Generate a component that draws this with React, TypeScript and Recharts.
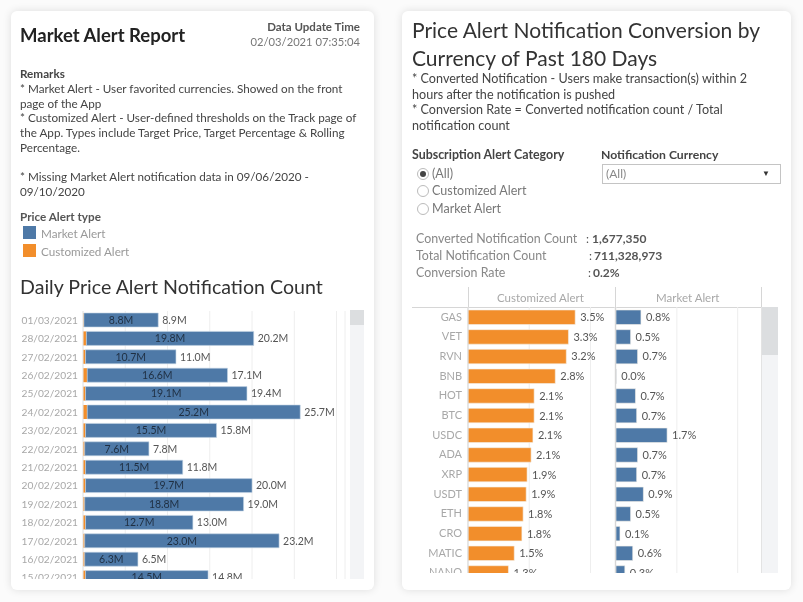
import { BarChart, Bar, XAxis, YAxis, CartesianGrid, LabelList } from "recharts";

const dates = [
  "01/03/2021", "28/02/2021", "27/02/2021", "26/02/2021", "25/02/2021",
  "24/02/2021", "23/02/2021", "22/02/2021", "21/02/2021", "20/02/2021",
  "19/02/2021", "18/02/2021", "17/02/2021", "16/02/2021", "15/02/2021",
];
const marketCounts = [8.8, 19.8, 10.7, 16.6, 19.1, 25.2, 15.5, 7.6, 11.5, 19.7, 18.8, 12.7, 23.0, 6.3, 14.5];
const customizedCounts = [0.1, 0.4, 0.3, 0.5, 0.3, 0.5, 0.3, 0.2, 0.3, 0.3, 0.2, 0.3, 0.2, 0.2, 0.3];
const totalCounts = [8.9, 20.2, 11.0, 17.1, 19.4, 25.7, 15.8, 7.8, 11.8, 20.0, 19.0, 13.0, 23.2, 6.5, 14.8];

const currencies = ["GAS", "VET", "RVN", "BNB", "HOT", "BTC", "USDC", "ADA", "XRP", "USDT", "ETH", "CRO", "MATIC", "NANO"];
const customizedRates = [3.5, 3.28, 3.21, 2.85, 2.16, 2.16, 2.12, 2.06, 1.93, 1.9, 1.8, 1.76, 1.51, 1.32];
const customizedRateLabels = ["3.5%", "3.3%", "3.2%", "2.8%", "2.1%", "2.1%", "2.1%", "2.1%", "1.9%", "1.9%", "1.8%", "1.8%", "1.5%", "1.3%"];
// BNB shows 0.0% but is not exactly zero, a true 0 would drop its label
const marketRates = [0.82, 0.48, 0.71, 0.01, 0.64, 0.68, 1.68, 0.71, 0.68, 0.9, 0.48, 0.13, 0.55, 0.29];
const marketRateLabels = ["0.8%", "0.5%", "0.7%", "0.0%", "0.7%", "0.7%", "1.7%", "0.7%", "0.7%", "0.9%", "0.5%", "0.1%", "0.6%", "0.3%"];

const remarks = [
  "* Market Alert - User favorited currencies. Showed on the front",
  "page of the App",
  "* Customized Alert - User-defined thresholds on the Track page of",
  "the App. Types include Target Price, Target Percentage & Rolling",
  "Percentage.",
  "",
  "* Missing Market Alert notification data in 09/06/2020 -",
  "09/10/2020",
];
const notes = [
  "* Converted Notification - Users make transaction(s) within 2",
  "hours after the notification is pushed",
  "* Conversion Rate = Converted notification count / Total",
  "notification count",
];
const radioOptions = ["(All)", "Customized Alert", "Market Alert"];

const BLUE = "#4e79a7";
const ORANGE = "#f28e2b";
const FONT = "Lato, 'Open Sans', sans-serif";

const dailyData = dates.map((date, i) => ({
  date,
  market: marketCounts[i],
  customized: customizedCounts[i],
  total: totalCounts[i],
}));

const rateData = currencies.map((currency, i) => ({
  currency,
  customized: customizedRates[i],
  customizedLabel: customizedRateLabels[i],
  market: marketRates[i],
  marketLabel: marketRateLabels[i],
}));

// absolutely placed text line, y is the vertical centre of the line
function Text({ x, y, right, size = 12, color = "#444", weight = 400, children }: any) {
  return (
    <div
      style={{
        position: "absolute",
        left: right === undefined ? x : undefined,
        right: right === undefined ? undefined : 803 - right,
        top: y - 12,
        height: 24,
        lineHeight: "24px",
        fontSize: size,
        color,
        fontWeight: weight,
        whiteSpace: "nowrap",
      }}
    >
      {children}
    </div>
  );
}

function Box({ x, y, w, h, style }: any) {
  return <div style={{ position: "absolute", left: x, top: y, width: w, height: h, ...style }} />;
}

function Card({ x, w }: any) {
  return (
    <Box
      x={x}
      y={11}
      w={w}
      h={579}
      style={{ background: "#fff", borderRadius: 6, boxShadow: "0 0 8px rgba(0,0,0,0.12)" }}
    />
  );
}

function DailyChart() {
  return (
    <div style={{ position: "absolute", left: 11, top: 311, width: 338, height: 268, overflow: "hidden" }}>
      <BarChart
        width={338}
        height={276}
        data={dailyData}
        layout="vertical"
        margin={{ top: 0, right: 4, bottom: 0, left: 0 }}
        barSize={14}
      >
        <CartesianGrid horizontal={false} stroke="#eeeeee" />
        <XAxis type="number" hide domain={[0, 31]} ticks={[0, 5, 10, 15, 20, 25, 30]} />
        <YAxis
          type="category"
          dataKey="date"
          width={72}
          interval={0}
          tickLine={false}
          tickSize={0}
          tickMargin={5}
          axisLine={{ stroke: "#e6e6e6" }}
          tick={{ fontSize: 10.2, fill: "#a8a8a8", fontFamily: FONT }}
        />
        <Bar dataKey="customized" stackId="a" fill={ORANGE} isAnimationActive={false} />
        <Bar dataKey="market" stackId="a" fill={BLUE} stroke="#c5d5e4" strokeWidth={0.6} isAnimationActive={false}>
          <LabelList
            dataKey="market"
            position="center"
            formatter={(v: any) => `${v.toFixed(1)}M`}
            style={{ fontSize: 10.5, fill: "#1f2f42", fontFamily: FONT }}
          />
          <LabelList
            dataKey="total"
            position="right"
            offset={4}
            formatter={(v: any) => `${v.toFixed(1)}M`}
            style={{ fontSize: 10.5, fill: "#555", fontFamily: FONT }}
          />
        </Bar>
      </BarChart>
    </div>
  );
}

function RateChart({ dataKey, labelKey, color, left, width, showAxis }: any) {
  return (
    <div style={{ position: "absolute", left, top: 307, width, height: 266, overflow: "hidden" }}>
      <BarChart
        width={width}
        height={275.4}
        data={rateData}
        layout="vertical"
        margin={{ top: 0, right: 0, bottom: 0, left: 0 }}
        barSize={14.5}
      >
        <CartesianGrid horizontal={false} stroke="#eeeeee" />
        <XAxis type="number" hide domain={[0, 4.8]} ticks={[0, 2, 4]} />
        <YAxis
          type="category"
          dataKey="currency"
          width={showAxis ? 56 : 0}
          hide={!showAxis}
          interval={0}
          tickLine={false}
          tickSize={0}
          tickMargin={6}
          axisLine={{ stroke: "#d6d6d6" }}
          tick={{ fontSize: 11, fill: "#a8a8a8", fontFamily: FONT }}
        />
        <Bar dataKey={dataKey} fill={color} stroke="#f4f0ea" strokeWidth={0.6} isAnimationActive={false}>
          <LabelList
            dataKey={labelKey}
            position="right"
            offset={5}
            style={{ fontSize: 11, fill: "#555", fontFamily: FONT }}
          />
        </Bar>
      </BarChart>
    </div>
  );
}

export default function App() {
  return (
    <div
      style={{
        position: "absolute",
        left: 0,
        top: 0,
        width: 803,
        height: 602,
        overflow: "hidden",
        background: "#fbfbfb",
        fontFamily: FONT,
        filter: "blur(0.35px)",
      }}
    >
      <Card x={11} w={363} />
      <Card x={402} w={389} />

      <Text x={20} y={35} size={18.5} color="#222" weight={700}>Market Alert Report</Text>
      <Text right={360} y={27} size={11.5} color="#555" weight={700}>Data Update Time</Text>
      <Text right={360} y={42} size={11.2} color="#777">02/03/2021 07:35:04</Text>
      <Text x={20} y={73} size={11.7} weight={700}>Remarks</Text>
      {remarks.map((line, i) => (
        <Text key={i} x={20} y={88 + i * 14.7} size={11.7}>{line}</Text>
      ))}
      <Text x={20} y={216} size={11.7} color="#555" weight={700}>Price Alert type</Text>
      <Box x={23} y={226} w={13} h={13} style={{ background: BLUE }} />
      <Text x={41} y={233} size={11.7} color="#999">Market Alert</Text>
      <Box x={23} y={244} w={13} h={13} style={{ background: ORANGE }} />
      <Text x={41} y={251} size={11.7} color="#999">Customized Alert</Text>
      <Text x={20} y={287} size={19.6} color="#333">Daily Price Alert Notification Count</Text>

      <DailyChart />
      <Box x={350} y={310} w={14} h={269} style={{ background: "#f3f4f6" }} />
      <Box x={350} y={310} w={14} h={15} style={{ background: "#dcdee0" }} />

      <Text x={412} y={30} size={21} color="#333">Price Alert Notification Conversion by</Text>
      <Text x={412} y={58} size={21} color="#333">Currency of Past 180 Days</Text>
      {notes.map((line, i) => (
        <Text key={i} x={412} y={79 + i * 15.6} size={12.6}>{line}</Text>
      ))}

      <Text x={412} y={155} size={12.4} color="#444" weight={700}>Subscription Alert Category</Text>
      <Text x={601} y={155} size={12.2} color="#444" weight={700}>Notification Currency</Text>
      {radioOptions.map((opt, i) => (
        <div key={opt}>
          <Box
            x={416.5}
            y={167.5 + i * 17.5}
            w={10}
            h={10}
            style={{ border: "1px solid #bbb", borderRadius: "50%", background: "#fff" }}
          />
          {i === 0 && <Box x={419.5} y={170.5} w={6} h={6} style={{ background: "#444", borderRadius: "50%" }} />}
          <Text x={432} y={173.5 + i * 17.5} size={12.5} color="#777">{opt}</Text>
        </div>
      ))}
      <Box x={602} y={164} w={177} h={18} style={{ border: "1px solid #c4c4c4" }} />
      <Text x={606} y={174} color="#888">(All)</Text>
      <Text x={762} y={173} size={8} color="#333">▼</Text>

      <Text x={416} y={239} size={12.4} color="#888">Converted Notification Count</Text>
      <Text x={586} y={239} color="#555">:</Text>
      <Text x={592} y={239} color="#555" weight={700}>1,677,350</Text>
      <Text x={416} y={256} size={12.4} color="#888">Total Notification Count</Text>
      <Text x={589} y={256} color="#555">:</Text>
      <Text x={594} y={256} color="#555" weight={700}>711,328,973</Text>
      <Text x={416} y={273} size={12.4} color="#888">Conversion Rate</Text>
      <Text x={588} y={273} color="#555">:</Text>
      <Text x={593} y={273} color="#555" weight={700}>0.2%</Text>

      <Box x={468} y={287} w={1} h={20} style={{ background: "#d6d6d6" }} />
      <Box x={615} y={287} w={1} h={286} style={{ background: "#d6d6d6" }} />
      <Box x={761} y={287} w={1} h={286} style={{ background: "#d6d6d6" }} />
      <Box x={412} y={307} w={350} h={1} style={{ background: "#d6d6d6" }} />
      <Text x={497} y={298} size={11.5} color="#a8a8a8">Customized Alert</Text>
      <Text x={656} y={298} size={11.5} color="#a8a8a8">Market Alert</Text>

      <RateChart dataKey="customized" labelKey="customizedLabel" color={ORANGE} left={412} width={203} showAxis />
      <RateChart dataKey="market" labelKey="marketLabel" color={BLUE} left={615.5} width={146} />
      <Box x={762} y={307} w={16} h={266} style={{ background: "#f3f4f6" }} />
      <Box x={762} y={307} w={16} h={48} style={{ background: "#dcdee0" }} />
    </div>
  );
}
